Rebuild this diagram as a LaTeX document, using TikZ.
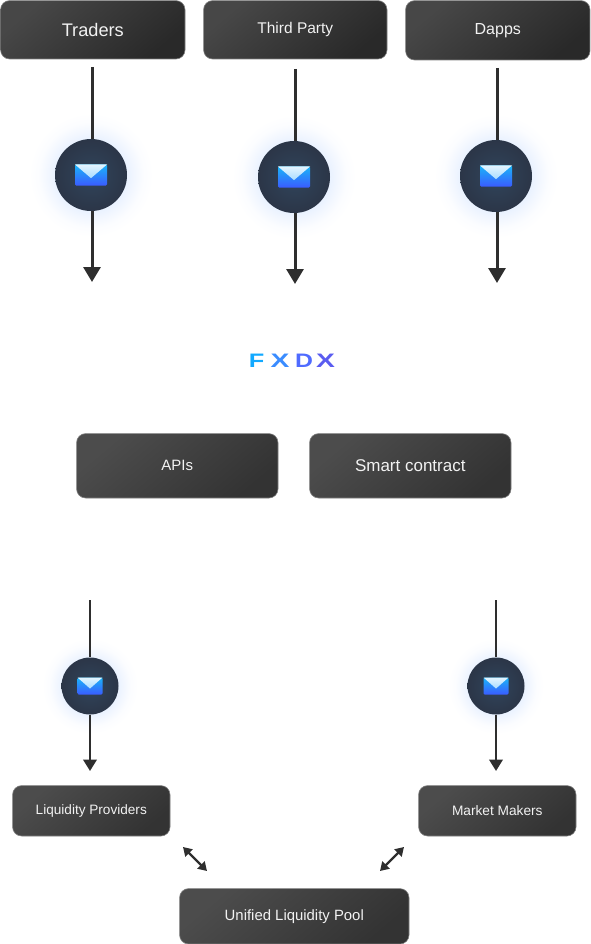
\documentclass[tikz,border=0pt]{standalone}
\usepackage{fontspec}
\setmainfont{Liberation Sans}
\usepackage{graphicx}
\usetikzlibrary{arrows.meta}
\pgfdeclareradialshading{glowshade}{\pgfpoint{0bp}{0bp}}{%
  rgb(0bp)=(0.91,0.945,1);rgb(14bp)=(0.91,0.945,1);rgb(17bp)=(0.945,0.965,1);rgb(21bp)=(0.985,0.99,1);rgb(25bp)=(1,1,1);rgb(50bp)=(1,1,1)}
\pgfdeclareradialshading{discshade}{\pgfpoint{0bp}{0bp}}{%
  rgb(0bp)=(0.19,0.27,0.36);rgb(25bp)=(0.17,0.21,0.28);rgb(50bp)=(0.17,0.21,0.28)}
\definecolor{logoA}{HTML}{12A9FF}
\definecolor{logoB}{HTML}{3A8CFF}
\definecolor{logoC}{HTML}{4F6BFF}
\definecolor{logoD}{HTML}{5A5CF0}
\definecolor{conn}{HTML}{2E2E2E}
\definecolor{envtop}{HTML}{1AB4F8}
\definecolor{envbot}{HTML}{3A5CFF}
\definecolor{flaptop}{HTML}{E4F5FF}
\definecolor{flapbot}{HTML}{A9DCFF}
\definecolor{boxtext}{HTML}{F2F2F2}
\tikzset{
  boxdark/.style={draw=black!50,line width=0.6pt,rounded corners=9pt,text=boxtext,inner sep=0pt,
    top color=black!72,bottom color=black!84,shading angle=40,anchor=north west},
  boxmid/.style={draw=black!50,line width=0.6pt,rounded corners=9pt,text=boxtext,inner sep=0pt,
    top color=black!70,bottom color=black!80,shading angle=40,anchor=north west},
  disc/.style={circle,inner sep=0pt,shading=discshade},
  linebig/.style={draw=conn,line width=3pt},
  linesmall/.style={draw=conn,line width=2.4pt},
  arrowbig/.style={linebig,-{Triangle[width=17pt,length=15pt]}},
  arrowsmall/.style={linesmall,-{Triangle[width=13.5pt,length=11.5pt]}},
  arrowdouble/.style={draw=conn,line width=2.2pt,{Triangle[width=10pt,length=8.5pt]}-{Triangle[width=10pt,length=8.5pt]}},
  logoletter/.style={inner sep=0pt,font=\fontsize{19.5}{19.5}\selectfont\bfseries}
}
% \msgdisc{name}{x}{y}{radius}{glow radius}{envelope half width}{envelope half height}
\newcommand{\msgdisc}[7]{%
  \shade[shading=glowshade] (#2,#3) circle[radius=#5pt];
  \node[disc,minimum size=2*#4 pt] (#1) at (#2,#3) {};
  \begin{scope}[shift={(#2,#3)}]
    \shade[top color=envtop,bottom color=envbot,rounded corners=1.2pt]
      (-#6,-#7) rectangle (#6,#7);
    \shade[top color=flaptop,bottom color=flapbot]
      (-#6,-#7) -- (#6,-#7) -- (0,0.3*#7) -- cycle;
  \end{scope}}
\begin{document}
\begin{tikzpicture}[x=1pt,y=-1pt]
\useasboundingbox (0,0) rectangle (590,944);
% upper boxes
\node[boxdark,minimum width=184.4pt,minimum height=58.4pt,font=\fontsize{18.2}{20}\selectfont] (traders) at (0.3,0.3) {Traders};
\node[boxdark,minimum width=183.4pt,minimum height=58.4pt,font=\fontsize{15.5}{18}\selectfont] (third) at (203.3,0.3) {\raisebox{3pt}{Third Party}};
\node[boxdark,minimum width=184.4pt,minimum height=59.4pt,font=\fontsize{16}{18}\selectfont] (dapps) at (405.3,0.3) {Dapps};
% discs
\msgdisc{m1}{91}{175}{36}{62}{16}{10.5}
\msgdisc{m2}{294}{177}{36}{62}{16}{10.5}
\msgdisc{m3}{496}{176}{36}{62}{16}{10.5}
\msgdisc{m4}{90}{686}{28.5}{48}{12.5}{8.5}
\msgdisc{m5}{496}{686}{28.5}{48}{12.5}{8.5}
% free ends
\coordinate (t1) at (92,67);  \coordinate (e1) at (92,282);
\coordinate (t2) at (295,69); \coordinate (e2) at (295,284);
\coordinate (t3) at (497,68); \coordinate (e3) at (497,283);
\coordinate (t4) at (90,600); \coordinate (e4) at (90,771);
\coordinate (t5) at (496,600);\coordinate (e5) at (496,771);
\draw[linebig] (t1) -- (t1 |- m1.north);
\draw[arrowbig] (e1 |- m1.south) -- (e1);
\draw[linebig] (t2) -- (t2 |- m2.north);
\draw[arrowbig] (e2 |- m2.south) -- (e2);
\draw[linebig] (t3) -- (t3 |- m3.north);
\draw[arrowbig] (e3 |- m3.south) -- (e3);
\draw[linesmall] (t4) -- (m4.north);
\draw[arrowsmall] (m4.south) -- (e4);
\draw[linesmall] (t5) -- (m5.north);
\draw[arrowsmall] (m5.south) -- (e5);
% logo
\node[logoletter,text=logoA] (lf) at (256.7,361) {\scalebox{1.3}[1]{F}};
\node[logoletter,text=logoB] (lx1) at (280,361) {\scalebox{1.45}[1]{X}};
\node[logoletter,text=logoC] (ld) at (304,361) {\scalebox{1.27}[1]{D}};
\node[logoletter,text=logoD] (lx2) at (325.5,361) {\scalebox{1.45}[1]{X}};
% middle boxes
\node[boxmid,minimum width=201.4pt,minimum height=64.4pt,font=\fontsize{15}{18}\selectfont] (apis) at (76.3,433.3) {APIs};
\node[boxmid,minimum width=201.4pt,minimum height=64.4pt,font=\fontsize{17}{18}\selectfont] (smart) at (309.3,433.3) {Smart contract};
% lower boxes
\node[boxmid,minimum width=157.4pt,minimum height=50.4pt,font=\fontsize{13.6}{16}\selectfont] (lp) at (12.3,785.3) {Liquidity Providers};
\node[boxmid,minimum width=157.4pt,minimum height=50.4pt,font=\fontsize{13.7}{16}\selectfont] (mm) at (418.3,785.3) {Market Makers};
\node[boxmid,minimum width=229.4pt,minimum height=55.4pt,font=\fontsize{14.9}{18}\selectfont] (ulp) at (179.3,888.3) {Unified Liquidity Pool};
% double arrows
\coordinate (d1a) at (183,847); \coordinate (d1b) at (207,871);
\coordinate (d2a) at (404,847); \coordinate (d2b) at (380,871);
\draw[arrowdouble] (d1a) -- (d1b);
\draw[arrowdouble] (d2a) -- (d2b);
\end{tikzpicture}
\end{document}
